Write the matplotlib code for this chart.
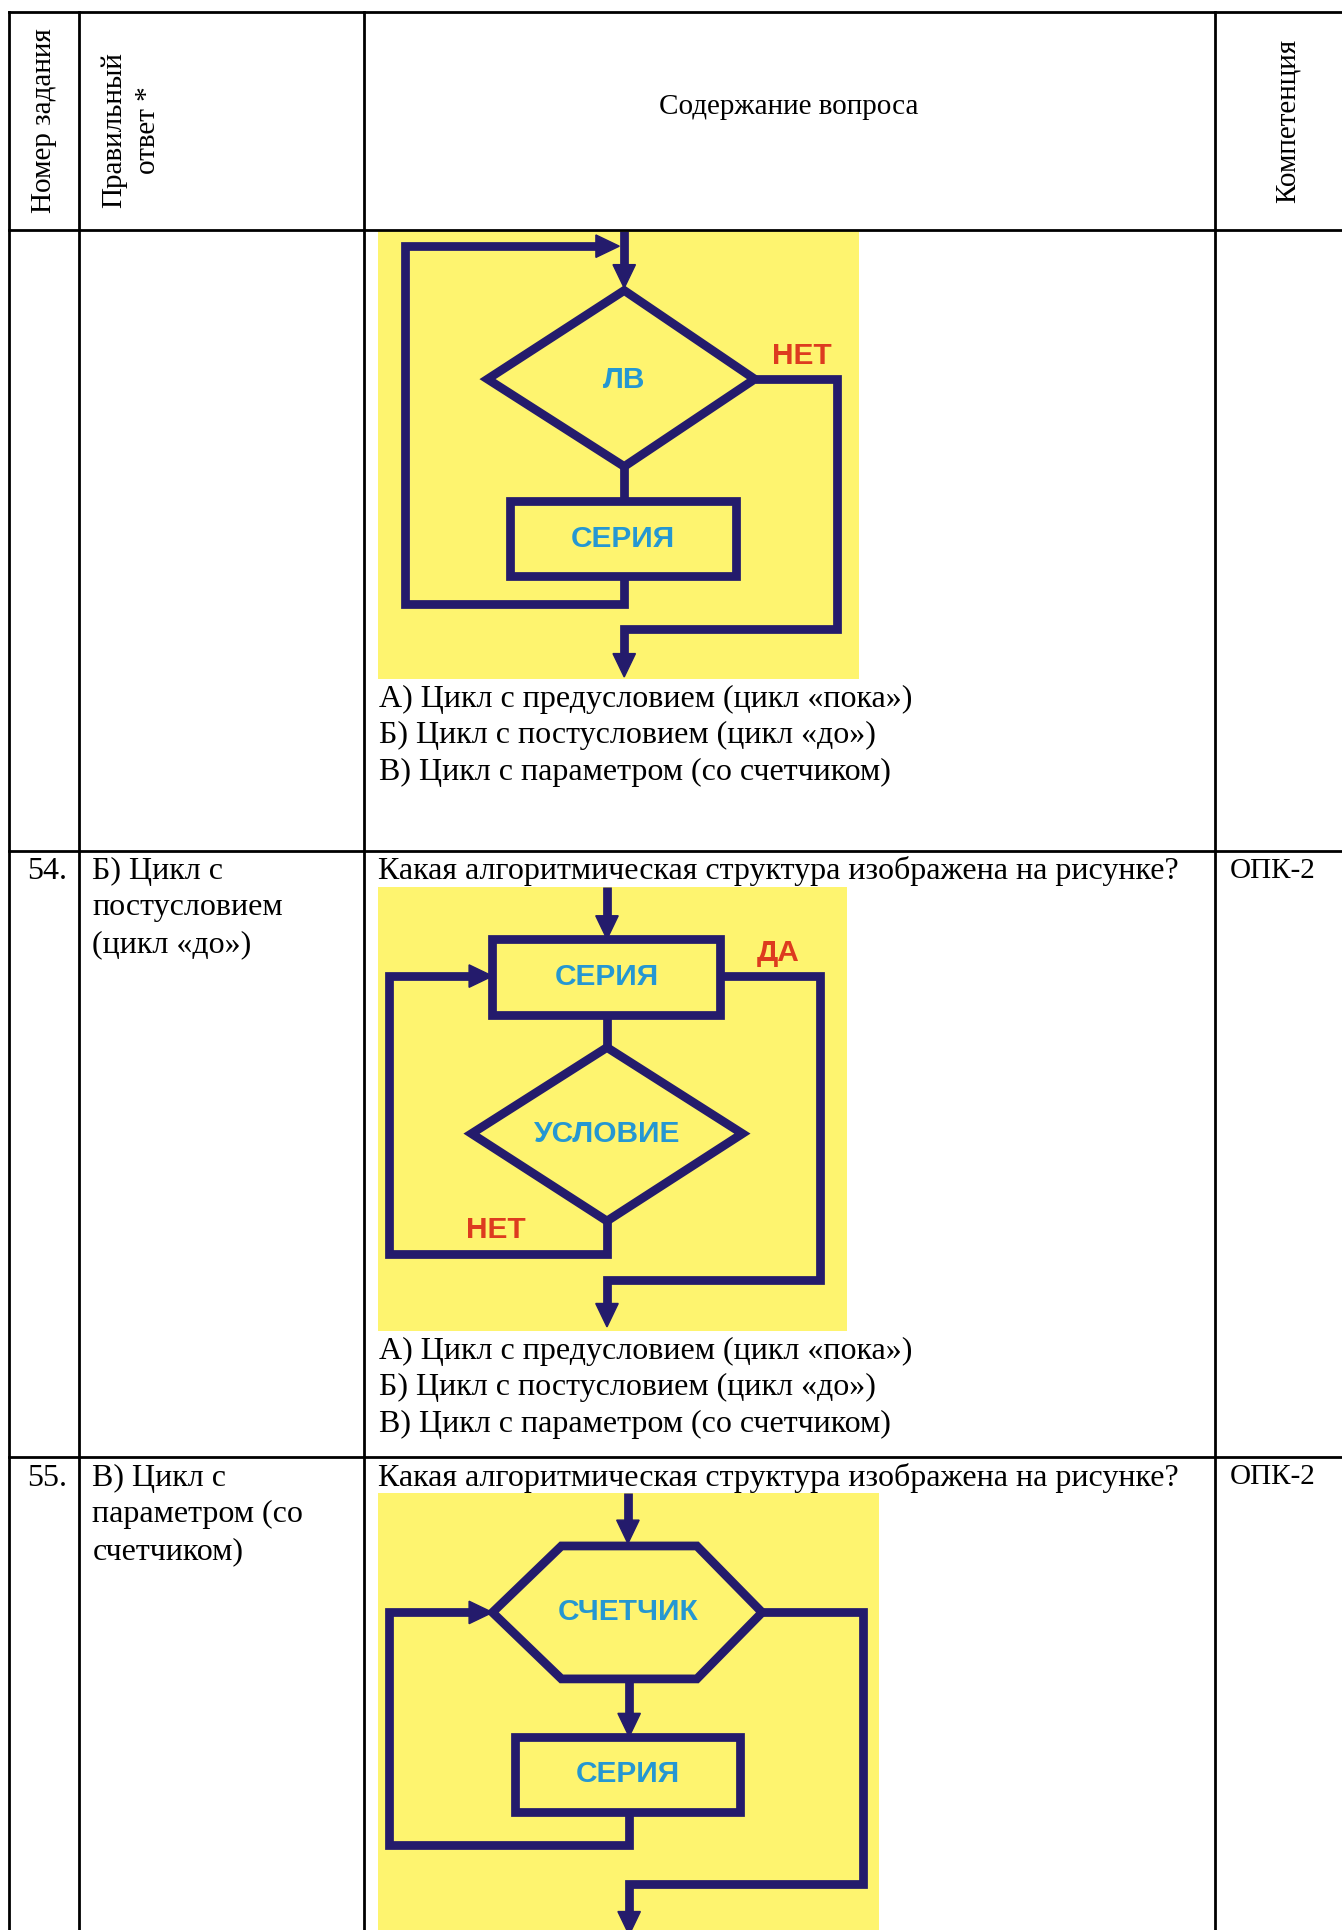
import matplotlib.pyplot as plt
from matplotlib.patches import Polygon

# page is laid out in the units of a 1090 x 1568 page
W, H = 1090, 1568

# table grid
col_x = [7, 64, 296, 987]
row_y = [10, 187, 691, 1184]

header_texts = ['Номер задания', 'Правильный\nответ *', 'Содержание вопроса', 'Компетенция']
header_pos = [(36, 98), (106, 106), (641, 87), (1046, 98)]
header_rot = [90, 90, 0, 90]

task_nums = ['54.', '55.']
answers = [['Б) Цикл с', 'постусловием', '(цикл «до»)'],
           ['В) Цикл с', 'параметром (со', 'счетчиком)']]
question = 'Какая алгоритмическая структура изображена на рисунке?'
competence = 'ОПК-2'
row_base = [714, 1207]   # first text baseline in rows 54, 55

options = ['А) Цикл с предусловием (цикл «пока»)',
           'Б) Цикл с постусловием (цикл «до»)',
           'В) Цикл с параметром (со счетчиком)']
options_base = [574, 1104]
line_step = 29.7

# flowcharts: yellow panels (x0, y0, x1, y1)
panels = [(307, 188, 698, 552), (307, 721, 688, 1081), (307, 1213, 714, 1568)]

# chart 1 - while loop
fc1_diamond = [(507, 236), (613, 308), (507, 379), (396, 308)]
fc1_box = (414, 407, 598, 468)
fc1_paths = [[(507, 188), (507, 220)],
             [(507, 379), (507, 407)],
             [(507, 468), (507, 491), (329, 491), (329, 200), (488, 200)],
             [(613, 308), (680, 308), (680, 511), (507, 511), (507, 534)]]
fc1_heads = [(507, 234, 'down'), (503, 200, 'right'), (507, 550, 'down')]
fc1_labels = [('ЛВ', 507, 309, 'c'), ('СЕРИЯ', 506, 438, 'c'), ('НЕТ', 651, 289, 'r')]

# chart 2 - do-until loop
fc2_diamond = [(493, 851), (603, 921), (493, 992), (383, 921)]
fc2_box = (400, 763, 585, 825)
fc2_paths = [[(493, 721), (493, 748)],
             [(493, 825), (493, 851)],
             [(493, 992), (493, 1019), (316, 1019), (316, 793), (384, 793)],
             [(585, 793), (666, 793), (666, 1040), (493, 1040), (493, 1062)]]
fc2_heads = [(493, 763, 'down'), (400, 793, 'right'), (493, 1078, 'down')]
fc2_labels = [('СЕРИЯ', 493, 794, 'c'), ('УСЛОВИЕ', 493, 921, 'c'),
              ('ДА', 632, 774, 'r'), ('НЕТ', 403, 999, 'r')]

# chart 3 - counter loop
fc3_hex = [(400, 1310), (456, 1256), (566, 1256), (619, 1310), (566, 1364), (456, 1364)]
fc3_box = (418, 1411, 601, 1472)
fc3_paths = [[(510, 1213), (510, 1240)],
             [(511, 1364), (511, 1396)],
             [(511, 1472), (511, 1499), (316, 1499), (316, 1310), (386, 1310)],
             [(619, 1310), (701, 1310), (701, 1531), (511, 1531), (511, 1556)]]
fc3_heads = [(510, 1254, 'down'), (400, 1310, 'right'), (511, 1411, 'down'), (511, 1572, 'down')]
fc3_labels = [('СЧЕТЧИК', 510, 1310, 'c'), ('СЕРИЯ', 510, 1441, 'c')]

yellow = '#FEF46F'
navy = '#241B6C'
cyan = '#2597D2'
red = '#DD3B1F'
lw_fc = 6.3

plt.rcParams['font.family'] = ['Liberation Serif', 'DejaVu Serif']

fig = plt.figure(figsize=(13.42, 19.30), dpi=100)
ax = fig.add_axes([0, 0, 1, 1])
ax.set_xlim(0, W)
ax.set_ylim(H, 0)
ax.axis('off')


def head(x, y, d, size=19):
    # filled triangle with its tip at (x, y)
    half = size * 0.48
    if d == 'down':
        pts = [(x, y), (x - half, y - size), (x + half, y - size)]
    else:
        pts = [(x, y), (x - size, y - half), (x - size, y + half)]
    ax.add_patch(Polygon(pts, closed=True, facecolor=navy, edgecolor=navy, lw=1, zorder=4))


def draw_chart(panel, shape, box, paths, heads, labels):
    x0, y0, x1, y1 = panel
    ax.fill([x0, x1, x1, x0], [y0, y0, y1, y1], color=yellow, lw=0, zorder=1)
    ax.add_patch(Polygon(shape, closed=True, fill=False, edgecolor=navy, lw=lw_fc,
                         joinstyle='miter', zorder=3))
    bx0, by0, bx1, by1 = box
    ax.add_patch(Polygon([(bx0, by0), (bx1, by0), (bx1, by1), (bx0, by1)], closed=True,
                         fill=False, edgecolor=navy, lw=lw_fc, joinstyle='miter', zorder=3))
    for p in paths:
        xs, ys = zip(*p)
        ax.plot(xs, ys, color=navy, lw=lw_fc, solid_joinstyle='miter',
                solid_capstyle='butt', zorder=3)
    for x, y, d in heads:
        head(x, y, d)
    for txt, x, y, kind in labels:
        ax.text(x, y, txt, color=cyan if kind == 'c' else red, fontsize=21.5,
                fontweight='bold', family=['Liberation Sans', 'DejaVu Sans'],
                ha='center', va='center', zorder=5)


draw_chart(panels[0], fc1_diamond, fc1_box, fc1_paths, fc1_heads, fc1_labels)
draw_chart(panels[1], fc2_diamond, fc2_box, fc2_paths, fc2_heads, fc2_labels)
draw_chart(panels[2], fc3_hex, fc3_box, fc3_paths, fc3_heads, fc3_labels)

# table lines
for x in col_x:
    ax.plot([x, x], [row_y[0], H], color='black', lw=2, zorder=6)
for y in row_y:
    ax.plot([col_x[0], W], [y, y], color='black', lw=2, zorder=6)

# header
for txt, (x, y), rot in zip(header_texts, header_pos, header_rot):
    ax.text(x, y, txt, fontsize=21, rotation=rot, ha='center', va='center',
            multialignment='center', linespacing=1.4)

# body rows
fs = 23
for i, b in enumerate(options_base):
    for k, opt in enumerate(options):
        ax.text(308, b + k * line_step, opt, fontsize=fs, ha='left', va='baseline', zorder=5)

for i, b in enumerate(row_base):
    ax.text(22, b, task_nums[i], fontsize=fs, ha='left', va='baseline')
    for k, line in enumerate(answers[i]):
        ax.text(75, b + k * line_step, line, fontsize=fs, ha='left', va='baseline')
    ax.text(307, b, question, fontsize=fs, ha='left', va='baseline', zorder=5)
    ax.text(999, b - 1, competence, fontsize=21, ha='left', va='baseline')

fig.savefig('out.png', dpi=100)
